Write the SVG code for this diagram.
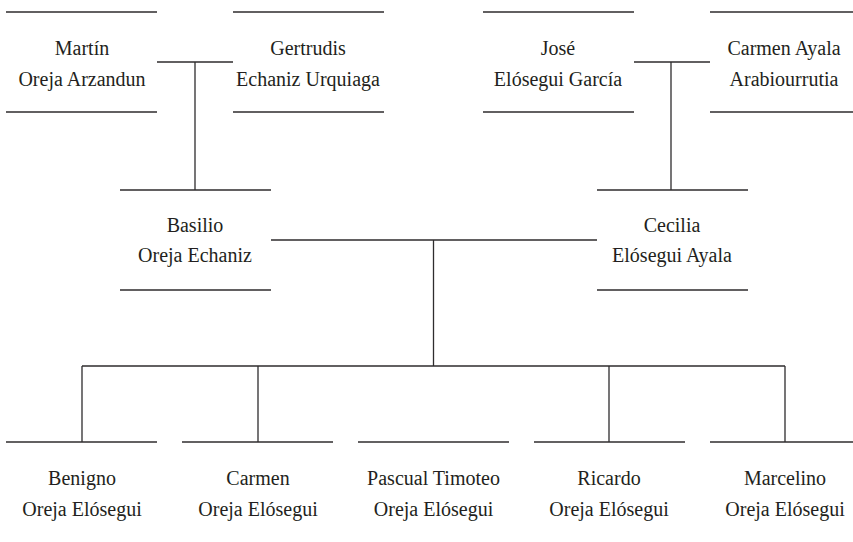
<svg xmlns="http://www.w3.org/2000/svg" width="853" height="542" viewBox="0 0 853 542">
<style>
.l{stroke:#2f2d2e;stroke-width:1.3;fill:none}
text{font-family:'Liberation Serif','DejaVu Serif','Times New Roman',serif;font-size:20px;fill:#231f20;text-anchor:middle}
</style>
<rect width="853" height="542" fill="#fff"/>
<g id="connectors" class="l">
<path d="M157,62H233M195,62V190"/>
<path d="M634,62H710M671,62V190"/>
<path d="M271,240H597M433.5,240V366"/>
<path d="M82,366H785M82,366V442M258,366V442M609,366V442M785,366V442"/>
</g>
<g id="martin"><path class="l" d="M6,12H157M6,112H157"/><text x="82" y="55">Martín</text><text x="82" y="86">Oreja Arzandun</text></g>
<g id="gertrudis"><path class="l" d="M233,12H384M233,112H384"/><text x="308" y="55">Gertrudis</text><text x="308" y="86">Echaniz Urquiaga</text></g>
<g id="jose"><path class="l" d="M483,12H634M483,112H634"/><text x="558" y="55">José</text><text x="558" y="86">Elósegui García</text></g>
<g id="carmen-ayala"><path class="l" d="M710,12H861M710,112H861"/><text x="784" y="55">Carmen Ayala</text><text x="784" y="86">Arabiourrutia</text></g>
<g id="basilio"><path class="l" d="M120,190H271M120,290H271"/><text x="195" y="232">Basilio</text><text x="195" y="262">Oreja Echaniz</text></g>
<g id="cecilia"><path class="l" d="M597,190H748M597,290H748"/><text x="672" y="232">Cecilia</text><text x="672" y="262">Elósegui Ayala</text></g>
<g id="benigno"><path class="l" d="M6,442H157"/><text x="82" y="485">Benigno</text><text x="82" y="516">Oreja Elósegui</text></g>
<g id="carmen"><path class="l" d="M182,442H333"/><text x="258" y="485">Carmen</text><text x="258" y="516">Oreja Elósegui</text></g>
<g id="pascual"><path class="l" d="M358,442H509"/><text x="433.5" y="485">Pascual Timoteo</text><text x="433.5" y="516">Oreja Elósegui</text></g>
<g id="ricardo"><path class="l" d="M534,442H685"/><text x="609" y="485">Ricardo</text><text x="609" y="516">Oreja Elósegui</text></g>
<g id="marcelino"><path class="l" d="M710,442H861"/><text x="785" y="485">Marcelino</text><text x="785" y="516">Oreja Elósegui</text></g>
</svg>
